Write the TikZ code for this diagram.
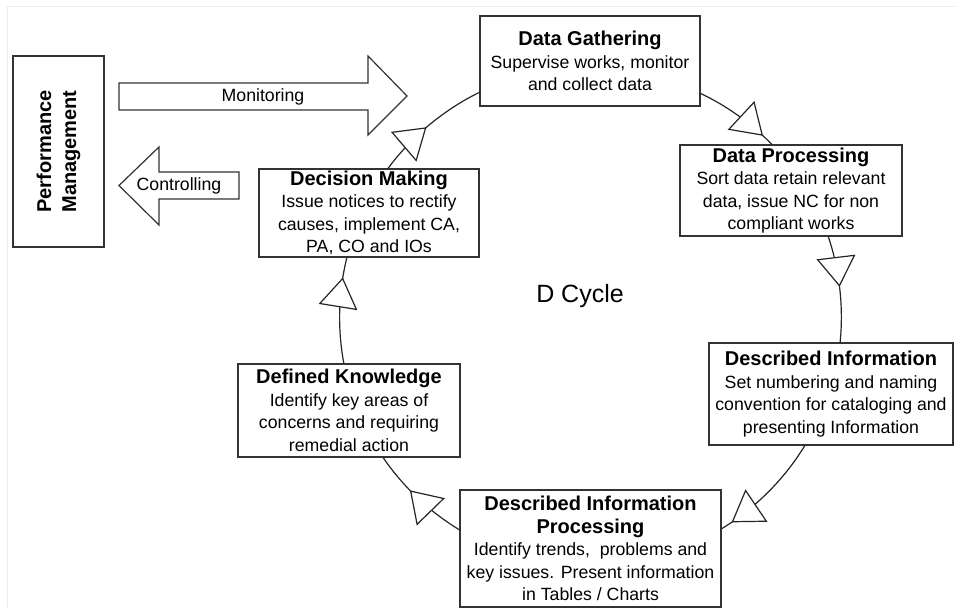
\documentclass[tikz,border=0pt]{standalone}
\usepackage{fontspec}
\setmainfont{Liberation Sans}
\usetikzlibrary{calc,arrows.meta,decorations.markings}

% text sizes used in the boxes
\newcommand{\bodyfont}{\fontsize{17.7}{22.5}\selectfont}
\newcommand{\ttl}[1]{{\bfseries\fontsize{20}{22.5}\selectfont #1}}

\tikzset{
  stagebox/.style={draw=black!80, line width=1.2pt, fill=white, inner sep=0pt,
    align=center, font=\bodyfont},
  cyc/.style={draw=black!85, line width=1.2pt,
    postaction={decorate, decoration={markings,
      mark=at position #1 with {\arrow{Triangle[length=30pt, width=39pt, fill=white]}}}}},
  bigarrow/.style={draw=black!80, line width=1.2pt, fill=white, line join=miter},
  plain/.style={font=\bodyfont, inner sep=0pt}
}

\begin{document}
\begin{tikzpicture}[x=1pt, y=1pt]
  \useasboundingbox (0,0) rectangle (955,-609);
  \fill[white] (0,0) rectangle (955,-609);
  % faint frame lines
  \draw[black!8, line width=1pt] (7,-609) -- (7,-7) -- (955,-7);

  % performance management block
  \node[stagebox, minimum width=91pt, minimum height=191pt] (pm) at (58.5,-151.5) {};
  \node[rotate=90, align=center, inner sep=0pt, font=\bfseries\fontsize{20}{25}\selectfont] (pmtxt) at (pm.center) {Performance\\Management};

  % monitoring / controlling arrows
  \draw[bigarrow] (119,-83) -- (368,-83) -- (368,-56) -- (407,-96) -- (368,-135) -- (368,-110) -- (119,-110) -- cycle;
  \node[plain] (montxt) at (263,-96.5) {Monitoring};
  \draw[bigarrow] (239,-172) -- (159,-172) -- (159,-147) -- (119,-185.5) -- (159,-225) -- (159,-199) -- (239,-199) -- cycle;
  \node[plain] (ctltxt) at (179,-185.5) {Controlling};

  % stages of the cycle
  \node[stagebox, minimum width=220pt, minimum height=90pt] (dg) at (590,-61)
    {\ttl{Data Gathering}\\Supervise works, monitor\\and collect data};
  \node[stagebox, minimum width=222pt, minimum height=91pt] (dp) at (791,-190.5)
    {\ttl{Data Processing}\\Sort data retain relevant\\data, issue NC for non\\compliant works};
  \node[stagebox, minimum width=244pt, minimum height=102pt] (di) at (831,-394)
    {\ttl{Described Information}\\Set numbering and naming\\convention for cataloging and\\presenting Information};
  \node[stagebox, minimum width=261pt, minimum height=117pt] (dip) at (590.5,-548.5)
    {\ttl{Described Information}\\\ttl{Processing}\\Identify trends, \ problems and\\key issues. Present information\\in Tables / Charts};
  \node[stagebox, minimum width=222pt, minimum height=93pt] (dk) at (349,-410.5)
    {\ttl{Defined Knowledge}\\Identify key areas of\\concerns and requiring\\remedial action};
  \node[stagebox, minimum width=220pt, minimum height=88pt] (dm) at (369,-213)
    {\ttl{Decision Making}\\Issue notices to rectify\\causes, implement CA,\\PA, CO and IOs};

  \node[inner sep=0pt, anchor=base, font=\fontsize{25}{30}\selectfont] (title) at (580,-303) {D Cycle};

  % cycle connectors
  \draw[cyc=0.47] ($(dm.north west)!0.586!(dm.north east)$) to[bend left=13.8, looseness=0.85] ($(dg.north west)!0.844!(dg.south west)$);
  \draw[cyc=0.86] ($(dg.north east)!0.856!(dg.south east)$) to[bend left=10.3, looseness=0.85] ($(dp.north west)!0.414!(dp.north east)$);
  \draw[cyc=0.48] ($(dp.south west)!0.667!(dp.south east)$) to[bend left=12.3, looseness=0.85] ($(di.north west)!0.537!(di.north east)$);
  \draw[cyc=0.9] ($(di.south west)!0.393!(di.south east)$) to[bend left=13.8, looseness=0.85] ($(dip.north east)!0.333!(dip.south east)$);
  \draw[cyc=0.6] ($(dip.north west)!0.342!(dip.south west)$) to[bend left=12.3, looseness=0.85] ($(dk.south west)!0.653!(dk.south east)$);
  \draw[cyc=0.81] ($(dk.north west)!0.477!(dk.north east)$) to[bend left=12.4, looseness=0.85] ($(dm.south west)!0.4!(dm.south east)$);
\end{tikzpicture}
\end{document}
